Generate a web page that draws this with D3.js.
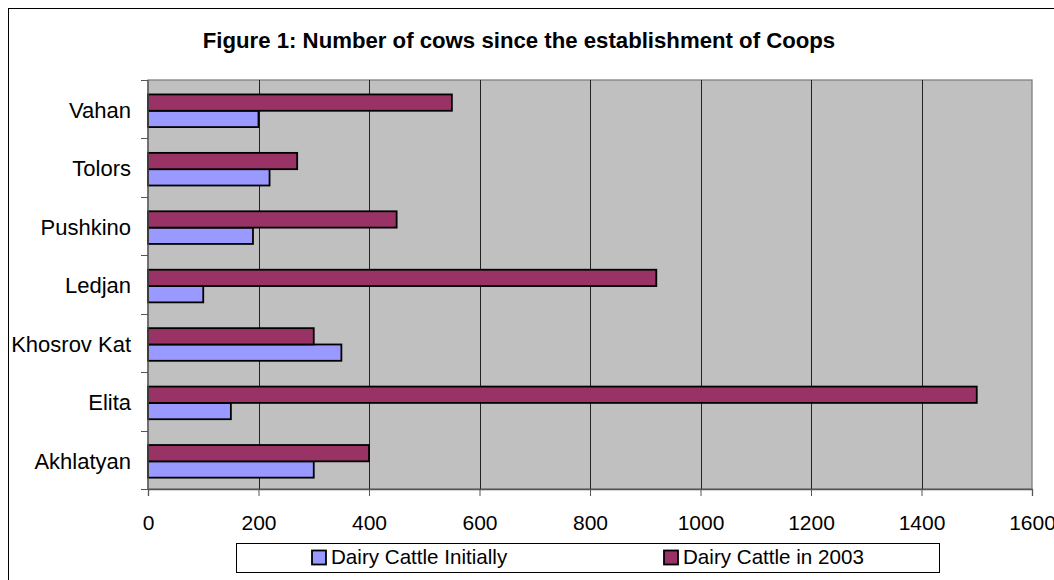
<!DOCTYPE html>
<html>
<head>
<meta charset="utf-8">
<script src="https://cdn.jsdelivr.net/npm/d3@7"></script>
<style>
  html, body { margin: 0; padding: 0; background: #fff; }
  svg { display: block; font-family: "Liberation Sans", Arial, sans-serif; }
</style>
</head>
<body>
<svg id="chart" width="1054" height="580"></svg>
<script>
// Cooperatives, listed bottom to top as they appear on the chart
const categories = ["Akhlatyan", "Elita", "Khosrov Kat", "Ledjan", "Pushkino", "Tolors", "Vahan"];
const seriesNames = ["Dairy Cattle Initially", "Dairy Cattle in 2003"];
const initially = [300, 150, 350, 100, 190, 220, 200];
const in2003 = [400, 1500, 300, 920, 450, 270, 550];
const xTicks = [0, 200, 400, 600, 800, 1000, 1200, 1400, 1600];
const colors = ["#9999FF", "#993366"];

const svg = d3.select("#chart");

// outer chart frame
svg.append("rect")
  .attr("x", 8.5).attr("y", 8.5)
  .attr("width", 1100).attr("height", 700)
  .attr("fill", "#fff").attr("stroke", "#000").attr("stroke-width", 1);

// title
svg.append("text")
  .attr("x", 519).attr("y", 47.5)
  .attr("text-anchor", "middle")
  .attr("font-size", 22.2).attr("font-weight", "bold")
  .text("Figure 1: Number of cows since the establishment of Coops");

const plot = { left: 148, right: 1032, top: 80, bottom: 489 };

const x = d3.scaleLinear().domain([0, 1600]).range([plot.left, plot.right]);
const y = d3.scaleBand().domain(categories.slice().reverse()).range([plot.top, plot.bottom]);
// within each category: 2003 bar on top, initial bar below
const inner = d3.scaleBand().domain([1, 0]).range([0, y.bandwidth()])
  .paddingInner(0).paddingOuter(0.79).align(0.56);

// plot background
svg.append("rect")
  .attr("x", plot.left).attr("y", plot.top)
  .attr("width", plot.right - plot.left).attr("height", plot.bottom - plot.top)
  .attr("fill", "#C0C0C0").attr("stroke", "#808080").attr("stroke-width", 1.3);

// vertical gridlines
svg.append("g").selectAll("line")
  .data(xTicks.slice(1, -1))
  .join("line")
  .attr("x1", d => Math.round(x(d)) + 0.5).attr("x2", d => Math.round(x(d)) + 0.5)
  .attr("y1", plot.top).attr("y2", plot.bottom)
  .attr("stroke", "#222").attr("stroke-width", 1);

// bars
const rows = categories.map((c, i) => ({ cat: c, vals: [initially[i], in2003[i]] }));
const groups = svg.append("g").selectAll("g")
  .data(rows).join("g")
  .attr("transform", d => `translate(0,${y(d.cat)})`);
groups.selectAll("rect")
  .data(d => d.vals.map((v, s) => ({ v, s })))
  .join("rect")
  .attr("x", x(0))
  .attr("y", d => inner(d.s))
  .attr("width", d => x(d.v) - x(0))
  .attr("height", inner.bandwidth())
  .attr("fill", d => colors[d.s])
  .attr("stroke", "#000").attr("stroke-width", 1.8);

// x axis
const xAxis = d3.axisBottom(x).tickValues(xTicks).tickSize(7).tickFormat(d3.format("d"));
const gx = svg.append("g").attr("transform", `translate(0,${plot.bottom})`).call(xAxis);
gx.select(".domain").attr("stroke", "#555").attr("stroke-width", 1.3);
gx.selectAll(".tick line").attr("stroke", "#555");
gx.selectAll(".tick text")
  .attr("y", 41).attr("dy", null)
  .attr("font-family", "Liberation Sans, Arial, sans-serif")
  .attr("font-size", 21).attr("fill", "#000");

// y axis: ticks sit on category boundaries
const gy = svg.append("g").attr("transform", `translate(${plot.left},0)`);
gy.append("line")
  .attr("x1", 0).attr("x2", 0).attr("y1", plot.top).attr("y2", plot.bottom)
  .attr("stroke", "#555").attr("stroke-width", 1.3);
const bounds = y.domain().map(c => y(c)).concat([plot.bottom]);
gy.selectAll("line.tk")
  .data(bounds).join("line").attr("class", "tk")
  .attr("x1", -7).attr("x2", 0)
  .attr("y1", d => Math.round(d) + 0.5).attr("y2", d => Math.round(d) + 0.5)
  .attr("stroke", "#555");
gy.selectAll("text")
  .data(categories).join("text")
  .attr("x", -17)
  .attr("y", d => y(d) + y.bandwidth() / 2 + 8.8)
  .attr("text-anchor", "end")
  .attr("font-size", 22)
  .text(d => d);

// legend
const legend = svg.append("g");
legend.append("rect")
  .attr("x", 236.5).attr("y", 543.5).attr("width", 703).attr("height", 29)
  .attr("fill", "#fff").attr("stroke", "#000").attr("stroke-width", 1);
const legendX = [312, 664];
seriesNames.forEach((name, i) => {
  legend.append("rect")
    .attr("x", legendX[i]).attr("y", 550.5).attr("width", 14).attr("height", 14)
    .attr("fill", colors[i]).attr("stroke", "#000").attr("stroke-width", 1.8);
  legend.append("text")
    .attr("x", legendX[i] + 19).attr("y", 563.5)
    .attr("font-size", 20.6)
    .text(name);
});
</script>
</body>
</html>
